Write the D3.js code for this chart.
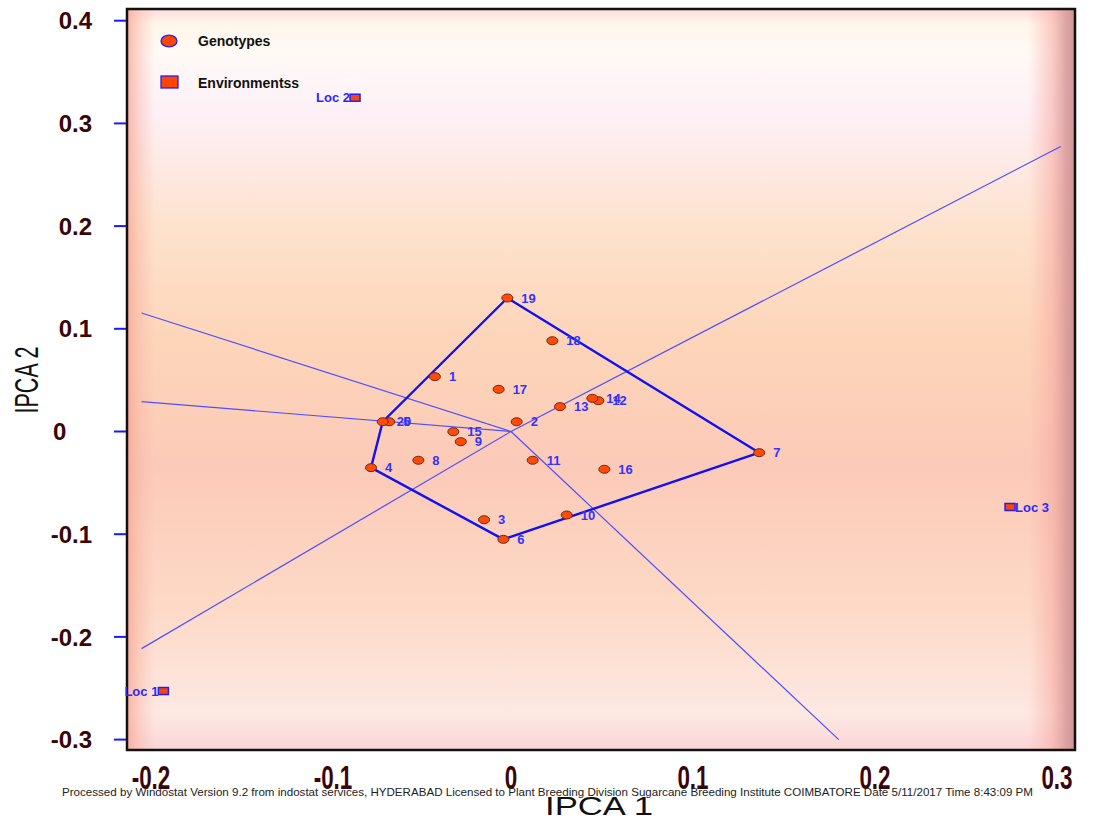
<!DOCTYPE html>
<html lang="en">
  <head>
    <meta charset="UTF-8" />
    <title>GGE Biplot - Which won where</title>
    <script src="https://cdn.jsdelivr.net/npm/d3@7"></script>
    <style>
      body { margin: 0; background: #fff; }
      svg { display: block; font-family: "Liberation Sans", Arial, sans-serif; }
    </style>
  </head>
  <body>
    <div id="chart"></div>
    <script>
      // genotype scores (IPCA 1, IPCA 2)
      var genoIds = ["1", "2", "3", "4", "5", "6", "7", "8", "9", "10",
                     "11", "12", "13", "14", "15", "16", "17", "18", "19", "20"];
      var genoPc1 = [-0.0418, 0.0031, -0.0148, -0.0769, -0.0669, -0.0042, 0.1364, -0.0509, -0.0276, 0.0306,
                     0.0119, 0.0480, 0.0269, 0.0447, -0.0317, 0.0513, -0.0068, 0.0227, -0.0020, -0.0705];
      var genoPc2 = [0.0534, 0.0095, -0.0859, -0.0352, 0.0095, -0.1050, -0.0206, -0.0280, -0.0099, -0.0813,
                     -0.0280, 0.0300, 0.0242, 0.0323, -0.0002, -0.0368, 0.0411, 0.0884, 0.1300, 0.0095];

      // environment scores
      var envNames = ["Loc 1", "Loc 2", "Loc 3"];
      var envPc1 = [-0.1910, -0.0857, 0.2742];
      var envPc2 = [-0.2527, 0.3250, -0.0735];

      var xTicks = [-0.2, -0.1, 0, 0.1, 0.2, 0.3];
      var yTicks = [0.4, 0.3, 0.2, 0.1, 0, -0.1, -0.2, -0.3];
      var footer = "Processed by Windostat Version 9.2 from indostat services, HYDERABAD Licensed to Plant Breeding Division Sugarcane Breeding Institute COIMBATORE Date  5/11/2017  Time 8:43:09 PM";

      var W = 1093, H = 827;
      var plot = { left: 127, right: 1075, top: 9, bottom: 750 };

      var x = d3.scaleLinear().domain([-0.21099, 0.30989]).range([plot.left, plot.right]);
      var y = d3.scaleLinear().domain([0.41139, -0.31013]).range([plot.top, plot.bottom]);

      // plain hyphen minus, like the original
      function tickText(d) {
        return d === 0 ? "0" : String(d);
      }

      var svg = d3.select("#chart").append("svg").attr("width", W).attr("height", H);
      var defs = svg.append("defs");

      // background gradients
      var vg = defs.append("linearGradient").attr("id", "bgv")
        .attr("x1", 0).attr("y1", 0).attr("x2", 0).attr("y2", 1);
      [[0, "#ffdcdc"], [0.02, "#fff6ea"], [0.06, "#fffaf6"], [0.14, "#fdf0f6"],
       [0.3, "#fde2cc"], [0.45, "#fdd5b9"], [0.62, "#fccab8"], [0.8, "#fdd9c6"],
       [0.95, "#fde8e2"], [1, "#fbd6d6"]].forEach(function (s) {
        vg.append("stop").attr("offset", s[0]).attr("stop-color", s[1]);
      });
      var hg = defs.append("linearGradient").attr("id", "bgh")
        .attr("x1", 0).attr("y1", 0).attr("x2", 1).attr("y2", 0);
      [[0, "#f7a090", 0.75], [0.012, "#f8b0a0", 0.45], [0.03, "#fab8a8", 0],
       [0.95, "#f8b0a8", 0], [0.975, "#f7aaa2", 0.55], [0.99, "#d89898", 0.85], [1, "#c88a8a", 0.9]]
        .forEach(function (s) {
          hg.append("stop").attr("offset", s[0]).attr("stop-color", s[1]).attr("stop-opacity", s[2]);
        });

      var pw = plot.right - plot.left, ph = plot.bottom - plot.top;
      svg.append("rect").attr("x", plot.left).attr("y", plot.top).attr("width", pw).attr("height", ph)
        .attr("fill", "url(#bgv)");
      svg.append("rect").attr("x", plot.left).attr("y", plot.top).attr("width", pw).attr("height", ph)
        .attr("fill", "url(#bgh)");

      // clip for marks
      defs.append("clipPath").attr("id", "clip").append("rect")
        .attr("x", plot.left).attr("y", plot.top).attr("width", pw).attr("height", ph);

      var genos = genoIds.map(function (id, i) {
        return { id: id, pc1: genoPc1[i], pc2: genoPc2[i] };
      });
      var envs = envNames.map(function (n, i) {
        return { name: n, pc1: envPc1[i], pc2: envPc2[i] };
      });

      // convex hull of genotypes
      var hull = d3.polygonHull(genos.map(function (d) { return [d.pc1, d.pc2]; }));

      // rays from origin perpendicular to each hull side, clipped to a box
      var box = { x0: -0.203, x1: 0.302, y0: -0.3, y1: 0.41 };
      function rayEnd(dx, dy) {
        var t = Infinity;
        if (dx > 0) t = Math.min(t, box.x1 / dx);
        if (dx < 0) t = Math.min(t, box.x0 / dx);
        if (dy > 0) t = Math.min(t, box.y1 / dy);
        if (dy < 0) t = Math.min(t, box.y0 / dy);
        return [dx * t, dy * t];
      }
      var rays = [];
      for (var i = 0; i < hull.length; i++) {
        var a = hull[i], b = hull[(i + 1) % hull.length];
        var ex = b[0] - a[0], ey = b[1] - a[1];
        var nx = ey, ny = -ex;
        var mx = (a[0] + b[0]) / 2, my = (a[1] + b[1]) / 2;
        if (nx * mx + ny * my < 0) { nx = -nx; ny = -ny; }
        rays.push(rayEnd(nx, ny));
      }

      var g = svg.append("g").attr("clip-path", "url(#clip)");

      g.selectAll("line.ray").data(rays).join("line").attr("class", "ray")
        .attr("x1", x(0)).attr("y1", y(0))
        .attr("x2", function (d) { return x(d[0]); })
        .attr("y2", function (d) { return y(d[1]); })
        .attr("stroke", "#4f4fff").attr("stroke-width", 1.2);

      g.append("path")
        .attr("d", d3.line().x(function (d) { return x(d[0]); }).y(function (d) { return y(d[1]); })(hull) + "Z")
        .attr("fill", "none").attr("stroke", "#1010f0").attr("stroke-width", 2.4)
        .attr("stroke-linejoin", "round");

      // genotypes
      g.selectAll("ellipse.geno").data(genos).join("ellipse").attr("class", "geno")
        .attr("cx", function (d) { return x(d.pc1); })
        .attr("cy", function (d) { return y(d.pc2); })
        .attr("rx", 5.5).attr("ry", 4)
        .attr("fill", "#ff4a0a").attr("stroke", "#6a2a10").attr("stroke-width", 1);

      g.selectAll("text.geno").data(genos).join("text").attr("class", "geno")
        .attr("x", function (d) { return x(d.pc1) + 14; })
        .attr("y", function (d) { return y(d.pc2); })
        .attr("dy", "0.36em")
        .attr("font-size", 13).attr("font-weight", "bold").attr("fill", "#3333ff")
        .text(function (d) { return d.id; });

      // environments (labels may run over the frame, as in the original)
      svg.selectAll("rect.env").data(envs).join("rect").attr("class", "env")
        .attr("x", function (d) { return x(d.pc1) - 5; })
        .attr("y", function (d) { return y(d.pc2) - 3.5; })
        .attr("width", 10).attr("height", 7)
        .attr("fill", "#ff4500").attr("stroke", "#2020ff").attr("stroke-width", 1.5);

      // legend
      svg.append("ellipse").attr("cx", 169).attr("cy", 41).attr("rx", 8).attr("ry", 5.8)
        .attr("fill", "#ff4500").attr("stroke", "#2020ff").attr("stroke-width", 1.3);
      svg.append("rect").attr("x", 161).attr("y", 76).attr("width", 17).attr("height", 12)
        .attr("fill", "#ff4500").attr("stroke", "#2020ff").attr("stroke-width", 1.3);
      svg.append("text").attr("x", 198).attr("y", 41).attr("dy", "0.36em")
        .attr("font-size", 14).attr("font-weight", "bold").attr("fill", "#111").text("Genotypes");
      svg.append("text").attr("x", 198).attr("y", 83).attr("dy", "0.36em")
        .attr("font-size", 14).attr("font-weight", "bold").attr("fill", "#111").text("Environmentss");

      // frame
      svg.append("rect").attr("x", plot.left).attr("y", plot.top).attr("width", pw).attr("height", ph)
        .attr("fill", "none").attr("stroke", "#111").attr("stroke-width", 2.5);

      svg.selectAll("text.env").data(envs).join("text").attr("class", "env")
        .attr("x", function (d) { return d.pc1 > 0.2 ? x(d.pc1) + 5 : x(d.pc1) - 5; })
        .attr("y", function (d) { return y(d.pc2); })
        .attr("dy", "0.36em")
        .attr("text-anchor", function (d) { return d.pc1 > 0.2 ? "start" : "end"; })
        .attr("font-size", 13).attr("font-weight", "bold").attr("fill", "#2a2aff")
        .text(function (d) { return d.name; });

      // y axis ticks + labels
      svg.selectAll("line.ytick").data(yTicks).join("line").attr("class", "ytick")
        .attr("x1", 114).attr("x2", plot.left - 1)
        .attr("y1", function (d) { return y(d); }).attr("y2", function (d) { return y(d); })
        .attr("stroke", "#1a1aff").attr("stroke-width", 2);

      svg.selectAll("text.ylab").data(yTicks).join("text").attr("class", "ylab")
        .attr("x", function (d) { return d === 0 ? 53 : 92; })
        .attr("y", function (d) { return y(d); })
        .attr("dy", "0.36em")
        .attr("text-anchor", function (d) { return d === 0 ? "start" : "end"; })
        .attr("font-size", 24).attr("font-weight", "bold").attr("fill", "#3a0505")
        .text(tickText);

      // x axis labels (condensed)
      svg.selectAll("text.xlab").data(xTicks).join("text").attr("class", "xlab")
        .attr("x", function (d) { return x(d) + (d < 0 ? 4 : 0); })
        .attr("y", 789)
        .attr("text-anchor", "middle")
        .attr("font-size", 33).attr("font-weight", "bold").attr("fill", "#3a0505")
        .attr("lengthAdjust", "spacingAndGlyphs")
        .text(tickText)
        .each(function () {
          var len = this.getComputedTextLength();
          d3.select(this).attr("textLength", len * 0.68);
        });

      // footer
      svg.append("text").attr("x", 62).attr("y", 796)
        .attr("font-size", 11).attr("fill", "#222")
        .attr("textLength", 971).attr("lengthAdjust", "spacingAndGlyphs")
        .text(footer);

      // axis titles
      svg.append("text").attr("x", 599).attr("y", 815).attr("text-anchor", "middle")
        .attr("font-size", 25).attr("fill", "#111")
        .attr("textLength", 108).attr("lengthAdjust", "spacingAndGlyphs")
        .text("IPCA 1");
      svg.append("text").attr("transform", "translate(38,380) rotate(-90)")
        .attr("text-anchor", "middle")
        .attr("font-size", 33).attr("fill", "#111")
        .attr("textLength", 67).attr("lengthAdjust", "spacingAndGlyphs")
        .text("IPCA 2");
    </script>
  </body>
</html>
